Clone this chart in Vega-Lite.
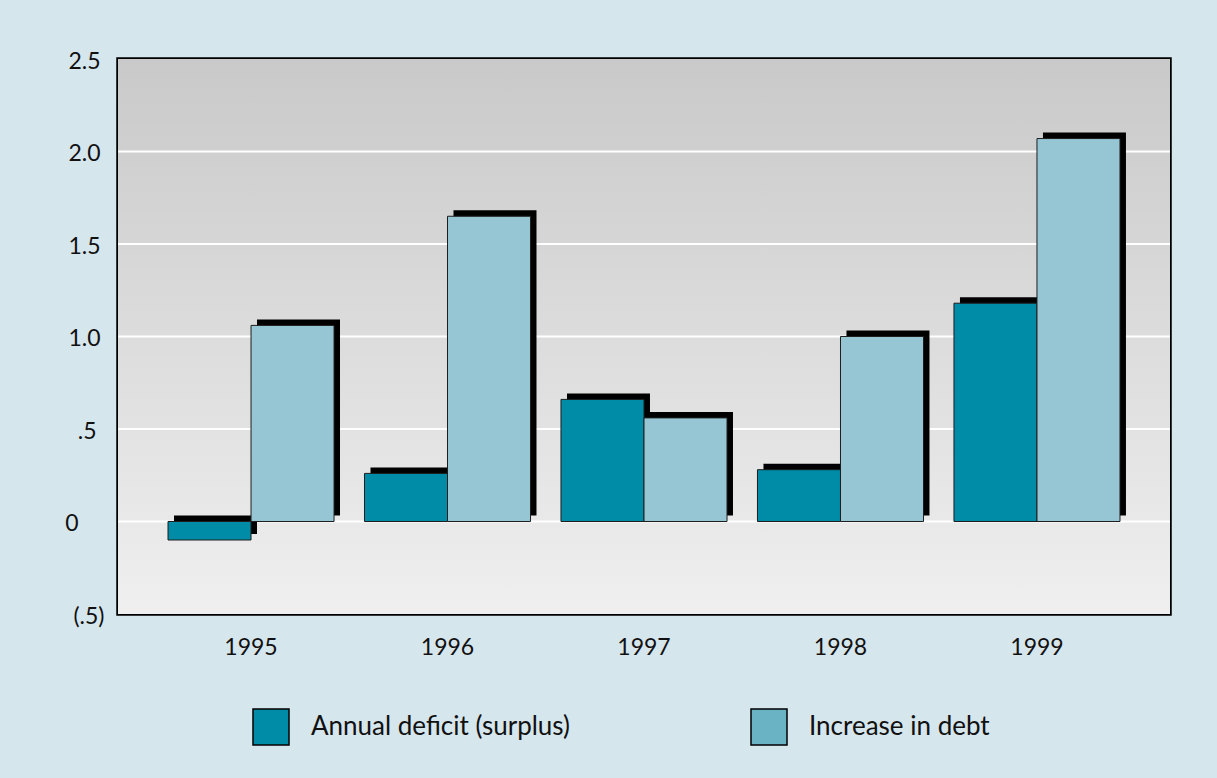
{
  "$schema": "https://vega.github.io/schema/vega-lite/v6.json",
  "autosize": "none",
  "width": 1052,
  "height": 555,
  "padding": {"left": 118, "top": 59, "right": 47, "bottom": 164},
  "background": "#d6e6ed",
  "config": {
    "font": "Lato",
    "view": {"stroke": "#000000", "strokeWidth": 3.5},
    "axis": {"labelFont": "Lato", "labelColor": "#111111", "labelFontSize": 23, "ticks": false, "domain": false, "grid": false}
  },
  "data": {
    "values": [
      {"year": "1995", "series": "Annual deficit (surplus)", "value": -0.10},
      {"year": "1995", "series": "Increase in debt", "value": 1.06},
      {"year": "1996", "series": "Annual deficit (surplus)", "value": 0.26},
      {"year": "1996", "series": "Increase in debt", "value": 1.65},
      {"year": "1997", "series": "Annual deficit (surplus)", "value": 0.66},
      {"year": "1997", "series": "Increase in debt", "value": 0.56},
      {"year": "1998", "series": "Annual deficit (surplus)", "value": 0.28},
      {"year": "1998", "series": "Increase in debt", "value": 1.00},
      {"year": "1999", "series": "Annual deficit (surplus)", "value": 1.18},
      {"year": "1999", "series": "Increase in debt", "value": 2.07}
    ]
  },
  "resolve": {
    "scale": {"xOffset": "independent", "color": "independent"},
    "legend": {"color": "independent"}
  },
  "layer": [
    {
      "data": {"values": [{"lo": -0.5, "hi": 2.5}]},
      "mark": {
        "type": "rect",
        "color": {
          "gradient": "linear",
          "x1": 0, "y1": 0, "x2": 0, "y2": 1,
          "stops": [
            {"offset": 0, "color": "#c9c9c9"},
            {"offset": 1, "color": "#efefef"}
          ]
        }
      },
      "encoding": {
        "y": {
          "field": "lo", "type": "quantitative", "title": null,
          "scale": {"domain": [-0.5, 2.5], "nice": false},
          "axis": {
            "values": [-0.5, 0, 0.5, 1, 1.5, 2, 2.5],
            "labelOffset": 2,
            "labelPadding": {
              "condition": [
                {"test": "datum.value == 0", "value": 40},
                {"test": "datum.value == 0.5", "value": 22},
                {"test": "datum.value == -0.5", "value": 14}
              ],
              "value": 18
            },
            "labelExpr": "datum.value == 0 ? '0' : datum.value == 0.5 ? '.5' : datum.value == -0.5 ? '(.5)' : format(datum.value, '.1f')"
          }
        },
        "y2": {"field": "hi"}
      }
    },
    {
      "data": {"values": [{"g": 0}, {"g": 0.5}, {"g": 1}, {"g": 1.5}, {"g": 2}]},
      "mark": {"type": "rule", "color": "#ffffff", "strokeWidth": 2},
      "encoding": {
        "y": {"field": "g", "type": "quantitative", "title": null}
      }
    },
    {
      "mark": {"type": "bar", "color": "#000000", "yOffset": -6, "y2Offset": -6},
      "encoding": {
        "x": {"field": "year", "type": "nominal", "title": null},
        "xOffset": {
          "field": "series", "type": "nominal",
          "scale": {"range": [6, 172], "paddingInner": 0, "paddingOuter": 0}
        },
        "y": {"field": "value", "type": "quantitative", "title": null}
      }
    },
    {
      "mark": {"type": "bar", "stroke": "#1e1e1e", "strokeWidth": 1},
      "encoding": {
        "x": {
          "field": "year", "type": "nominal", "title": null,
          "scale": {"paddingInner": 0.155, "paddingOuter": 0.2545},
          "axis": {"labelAngle": 0, "labelAlign": "center", "labelPadding": 22, "labelBaseline": "top"}
        },
        "xOffset": {
          "field": "series", "type": "nominal",
          "scale": {"paddingInner": 0, "paddingOuter": 0}
        },
        "y": {"field": "value", "type": "quantitative", "title": null},
        "color": {
          "field": "series", "type": "nominal",
          "scale": {"domain": ["Annual deficit (surplus)", "Increase in debt"], "range": ["#008ba6", "#96c5d4"]},
          "legend": null
        }
      }
    },
    {
      "mark": {"type": "bar", "opacity": 0},
      "encoding": {
        "x": {"field": "year", "type": "nominal", "title": null},
        "xOffset": {"field": "series", "type": "nominal"},
        "y": {"field": "value", "type": "quantitative", "title": null},
        "color": {
          "field": "series", "type": "nominal",
          "scale": {"domain": ["Annual deficit (surplus)", "Increase in debt"], "range": ["#008ba6", "#6ab3c4"]},
          "legend": {
            "title": null,
            "orient": "none",
            "direction": "horizontal",
            "legendX": 134,
            "legendY": 649,
            "symbolType": "square",
            "symbolSize": 1296,
            "symbolStrokeColor": "#000000",
            "symbolStrokeWidth": 1.5,
            "symbolOpacity": 1,
            "labelFont": "Lato",
            "labelFontSize": 26,
            "labelColor": "#111111",
            "labelLimit": 0,
            "labelOffset": 21,
            "columnPadding": 178,
            "encode": {
              "symbols": {
                "update": {
                  "stroke": {"value": "#000000"},
                  "strokeWidth": {"value": 1.5},
                  "opacity": {"value": 1}
                }
              }
            }
          }
        }
      }
    }
  ]
}
